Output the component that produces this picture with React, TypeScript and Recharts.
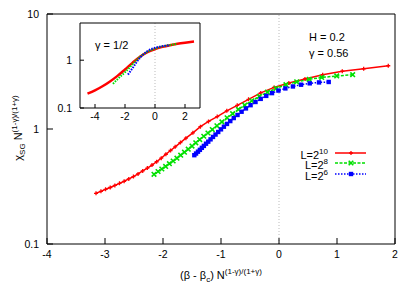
import { LineChart, Line, XAxis, YAxis, ReferenceLine } from 'recharts'

const FONT = '"Liberation Sans", Arial, Helvetica, sans-serif'
const RED = '#ff0000'
const GREEN = '#00e000'
const BLUE = '#0000ff'

// main panel, L = 2^10
const redX = [-3.155, -3.07, -2.99, -2.91, -2.83, -2.75, -2.67, -2.59, -2.51, -2.43, -2.35, -2.27, -2.19, -2.11, -2.03, -1.95, -1.87, -1.79, -1.7, -1.605, -1.485, -1.355, -1.215, -1.065, -0.9, -0.72, -0.525, -0.315, -0.085, 0.17, 0.448, 0.753, 1.091, 1.46, 1.884]
const redY = [0.276, 0.287, 0.299, 0.31, 0.323, 0.337, 0.351, 0.368, 0.386, 0.407, 0.432, 0.457, 0.486, 0.519, 0.558, 0.603, 0.65, 0.7, 0.762, 0.832, 0.927, 1.047, 1.164, 1.282, 1.439, 1.607, 1.811, 2.061, 2.301, 2.512, 2.723, 2.965, 3.177, 3.342, 3.548]

// L = 2^8
const greenX = [-2.155, -2.085, -2.02, -1.955, -1.89, -1.825, -1.76, -1.695, -1.63, -1.565, -1.5, -1.435, -1.367, -1.297, -1.225, -1.15, -1.07, -0.985, -0.895, -0.8, -0.7, -0.59, -0.47, -0.34, -0.2, -0.05, 0.12, 0.305, 0.52, 0.736, 0.995, 1.27]
const greenY = [0.404, 0.427, 0.449, 0.473, 0.499, 0.527, 0.557, 0.592, 0.628, 0.668, 0.711, 0.759, 0.809, 0.865, 0.923, 0.989, 1.067, 1.153, 1.25, 1.358, 1.479, 1.611, 1.758, 1.919, 2.089, 2.254, 2.427, 2.57, 2.704, 2.805, 2.891, 2.965]

// L = 2^6
const blueX = [-1.46, -1.43, -1.397, -1.364, -1.33, -1.295, -1.258, -1.22, -1.18, -1.138, -1.094, -1.048, -1.0, -0.95, -0.897, -0.84, -0.78, -0.715, -0.645, -0.57, -0.49, -0.405, -0.315, -0.22, -0.12, -0.01, 0.11, 0.24, 0.38, 0.53, 0.69, 0.857]
const blueY = [0.592, 0.612, 0.635, 0.659, 0.686, 0.713, 0.745, 0.776, 0.813, 0.853, 0.895, 0.942, 0.993, 1.047, 1.107, 1.172, 1.245, 1.324, 1.413, 1.51, 1.611, 1.718, 1.828, 1.941, 2.051, 2.158, 2.254, 2.344, 2.427, 2.495, 2.541, 2.564]

// inset, gamma = 1/2
const insetRedX = [-4.5, -4, -3.5, -3, -2.5, -2, -1.5, -1, -0.5, 0, 0.5, 1, 1.5, 2, 2.6]
const insetRedY = [0.2, 0.235, 0.285, 0.36, 0.47, 0.64, 0.88, 1.18, 1.47, 1.7, 1.9, 2.06, 2.2, 2.32, 2.45]
const insetGreenX = [-2.8, -2.5, -2, -1.5, -1, -0.5, 0, 0.5, 1, 1.5]
const insetGreenY = [0.32, 0.4, 0.56, 0.82, 1.18, 1.5, 1.75, 1.95, 2.08, 2.2]
const insetBlueX = [-1.8, -1.5, -1, -0.5, 0, 0.5, 1]
const insetBlueY = [0.5, 0.68, 1.12, 1.55, 1.82, 1.97, 2.05]

const xTicks = [-4, -3, -2, -1, 0, 1, 2]
const yTicks = [0.1, 1, 10]
const yMinor = [0.2, 0.3, 0.4, 0.5, 0.6, 0.7, 0.8, 0.9, 2, 3, 4, 5, 6, 7, 8, 9]
const insetXTicks = [-4, -2, 0, 2]
const insetYTicks = [0.1, 1]
const insetYMinor = [0.2, 0.3, 0.4, 0.5, 0.6, 0.7, 0.8, 0.9, 2, 3, 4, 5]

const zip = (xs: number[], ys: number[]) => xs.map((x, i) => ({ x, y: ys[i] }))

const tickStyle = { fill: '#000', fontSize: 10.5, fontFamily: FONT }

function PlusDot(p: any) {
  const { cx, cy } = p
  if (cx == null || cy == null) return null
  return <path key={p.key} d={`M${cx - 2},${cy}h4M${cx},${cy - 2}v4`} stroke={RED} strokeWidth={1.3} fill="none" />
}

function CrossDot(p: any) {
  const { cx, cy } = p
  if (cx == null || cy == null) return null
  return <path key={p.key} d={`M${cx - 2.3},${cy - 2.3}l4.6,4.6M${cx - 2.3},${cy + 2.3}l4.6,-4.6`} stroke={GREEN} strokeWidth={1.6} fill="none" />
}

function SquareDot(p: any) {
  const { cx, cy } = p
  if (cx == null || cy == null) return null
  return <rect key={p.key} x={cx - 2.2} y={cy - 2.2} width={4.4} height={4.4} fill={BLUE} />
}

function Sup({ children }: { children: React.ReactNode }) {
  return <span style={{ fontSize: 8, position: 'relative', top: -5 }}>{children}</span>
}

function Sub({ children }: { children: React.ReactNode }) {
  return <span style={{ fontSize: 8, position: 'relative', top: 3 }}>{children}</span>
}

const legendRows = [
  { label: '10', color: RED, dash: undefined, y: 153.5, marker: 'plus' },
  { label: '8', color: GREEN, dash: '3 1.5', y: 164, marker: 'cross' },
  { label: '6', color: BLUE, dash: '1.5 1.5', y: 174.5, marker: 'square' },
]

function LegendSample({ color, dash, marker }: { color: string; dash?: string; marker: string }) {
  return (
    <svg width={32} height={8} style={{ display: 'block' }}>
      <line x1={0} y1={4} x2={31} y2={4} stroke={color} strokeWidth={1.5} strokeDasharray={dash} />
      {marker === 'plus' && <path d="M14,4h4M16,2v4" stroke={color} strokeWidth={1.3} />}
      {marker === 'cross' && <path d="M13.7,1.7l4.6,4.6M13.7,6.3l4.6,-4.6" stroke={color} strokeWidth={1.6} />}
      {marker === 'square' && <rect x={13.8} y={1.8} width={4.4} height={4.4} fill={color} />}
    </svg>
  )
}

// frame axes: ticks point inward (negative tickSize), minor log ticks on mirrored axes
function Frame({ xDomain, xt, yDomain, yt, ym, major, minor, yWidth, xHeight, xMargin, yMargin }: any) {
  return [
    <XAxis key="b" xAxisId="b" type="number" dataKey="x" domain={xDomain} ticks={xt} height={xHeight} tickSize={-major} tickMargin={major + xMargin} stroke="#000" tick={tickStyle} allowDataOverflow />,
    <XAxis key="t" xAxisId="t" type="number" orientation="top" height={1} domain={xDomain} ticks={xt} tick={false} tickSize={-major} stroke="#000" allowDataOverflow />,
    <YAxis key="l" yAxisId="l" type="number" scale="log" domain={yDomain} ticks={yt} width={yWidth} tickSize={-major} tickMargin={major + yMargin} stroke="#000" tick={tickStyle} allowDataOverflow />,
    <YAxis key="lm" yAxisId="lm" type="number" scale="log" mirror width={1} domain={yDomain} ticks={ym} tick={false} tickSize={minor} axisLine={false} stroke="#000" allowDataOverflow />,
    <YAxis key="r" yAxisId="r" type="number" scale="log" orientation="right" width={1} domain={yDomain} ticks={yt} tick={false} tickSize={-major} stroke="#000" allowDataOverflow />,
    <YAxis key="rm" yAxisId="rm" type="number" scale="log" orientation="right" mirror width={1} domain={yDomain} ticks={ym} tick={false} tickSize={minor} axisLine={false} stroke="#000" allowDataOverflow />,
  ]
}

function MainChart() {
  return (
    <LineChart width={415} height={291} margin={{ top: 13, right: 19, bottom: 27, left: 7 }}>
      {Frame({ xDomain: [-4, 2], xt: xTicks, yDomain: [0.1, 10], yt: yTicks, ym: yMinor, major: 6, minor: 3, yWidth: 40, xHeight: 20, xMargin: 7, yMargin: 8 })}
      <ReferenceLine xAxisId="b" yAxisId="l" x={0} stroke="#aaa" strokeWidth={0.8} strokeDasharray="1 2" />
      <Line xAxisId="b" yAxisId="l" data={zip(redX, redY)} dataKey="y" type="linear" stroke={RED} strokeWidth={1.5} dot={PlusDot} isAnimationActive={false} />
      <Line xAxisId="b" yAxisId="l" data={zip(greenX, greenY)} dataKey="y" type="linear" stroke={GREEN} strokeWidth={1.5} strokeDasharray="3 1.5" dot={CrossDot} isAnimationActive={false} />
      <Line xAxisId="b" yAxisId="l" data={zip(blueX, blueY)} dataKey="y" type="linear" stroke={BLUE} strokeWidth={1.5} strokeDasharray="1.5 1.5" dot={SquareDot} isAnimationActive={false} />
    </LineChart>
  )
}

function InsetChart() {
  return (
    <LineChart width={215} height={130} margin={{ top: 22, right: 14, bottom: 6, left: 50 }}>
      {Frame({ xDomain: [-5, 3], xt: insetXTicks, yDomain: [0.1, 6], yt: insetYTicks, ym: insetYMinor, major: 4, minor: 2, yWidth: 30, xHeight: 16, xMargin: 5, yMargin: 8 })}
      <ReferenceLine xAxisId="b" yAxisId="l" x={0} stroke="#aaa" strokeWidth={0.8} strokeDasharray="1 2" />
      <Line xAxisId="b" yAxisId="l" data={zip(insetRedX, insetRedY)} dataKey="y" type="monotone" stroke={RED} strokeWidth={2.5} dot={false} isAnimationActive={false} />
      <Line xAxisId="b" yAxisId="l" data={zip(insetGreenX, insetGreenY)} dataKey="y" type="monotone" stroke={GREEN} strokeWidth={2} strokeDasharray="1.5 1.2" dot={false} isAnimationActive={false} />
      <Line xAxisId="b" yAxisId="l" data={zip(insetBlueX, insetBlueY)} dataKey="y" type="monotone" stroke={BLUE} strokeWidth={2} strokeDasharray="1.5 1.2" dot={false} isAnimationActive={false} />
    </LineChart>
  )
}

export default function App() {
  const text: React.CSSProperties = { position: 'absolute', fontFamily: FONT, fontSize: 11, color: '#000', whiteSpace: 'nowrap', lineHeight: '12px' }
  return (
    <div style={{ position: 'absolute', left: 0, top: 0, width: 415, height: 291, background: '#fff', overflow: 'hidden' }}>
      <MainChart />
      <div style={{ position: 'absolute', left: 0, top: 0 }}>
        <InsetChart />
      </div>

      <div style={{ ...text, left: 309, top: 31 }}>H = 0.2</div>
      <div style={{ ...text, left: 309, top: 47 }}>γ = 0.56</div>
      <div style={{ ...text, left: 95, top: 39 }}>γ = 1/2</div>

      {legendRows.map((r) => (
        <div key={r.label}>
          <div style={{ ...text, right: 87, top: r.y - 5 }}>
            L=2<Sup>{r.label}</Sup>
          </div>
          <div style={{ position: 'absolute', left: 335, top: r.y - 5 }}>
            <LegendSample color={r.color} dash={r.dash} marker={r.marker} />
          </div>
        </div>
      ))}

      <div style={{ ...text, left: 221, top: 269, transform: 'translateX(-50%)' }}>
        (β - β<Sub>c</Sub>) N<Sup>(1-γ)/(1+γ)</Sup>
      </div>
      <div style={{ ...text, left: 19, top: 128, transform: 'translate(-50%, -50%) rotate(-90deg)' }}>
        χ<Sub>SG</Sub> N<Sup>(1-γ)/(1+γ)</Sup>
      </div>
    </div>
  )
}
